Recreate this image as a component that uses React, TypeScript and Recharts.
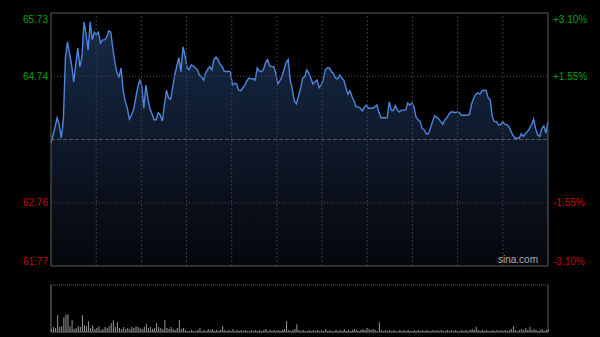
import { AreaChart, Area, Line, BarChart, Bar, XAxis, YAxis, CartesianGrid, ReferenceLine, ReferenceArea } from 'recharts';

// minute prices
const prices = [
  63.70, 63.82, 63.95, 64.09, 63.98, 63.77, 64.06, 65.03, 65.28, 65.09,
  64.92, 64.65, 64.93, 65.18, 64.89, 65.04, 65.59, 65.40, 65.15, 65.59,
  65.31, 65.43, 65.39, 65.43, 65.26, 65.31, 65.31, 65.35, 65.45, 65.43,
  65.17, 64.96, 64.79, 64.73, 64.87, 64.52, 64.35, 64.24, 64.07, 64.13,
  64.21, 64.38, 64.56, 64.68, 64.60, 64.24, 64.60, 64.38, 64.23, 64.15,
  64.06, 64.06, 64.17, 64.13, 64.04, 64.29, 64.52, 64.40, 64.38, 64.56,
  64.76, 64.90, 65.03, 64.81, 65.20, 65.06, 64.87, 64.84, 64.92, 64.90,
  64.87, 64.84, 64.76, 64.73, 64.68, 64.79, 64.85, 64.89, 64.84, 65.00,
  65.04, 65.00, 64.93, 64.89, 64.82, 64.81, 64.82, 64.81, 64.60, 64.63,
  64.62, 64.52, 64.51, 64.56, 64.60, 64.67, 64.71, 64.70, 64.70, 64.68,
  64.87, 64.82, 64.81, 64.84, 64.95, 65.00, 64.90, 64.89, 64.89, 64.79,
  64.62, 64.67, 64.73, 64.85, 64.95, 65.00, 64.68, 64.54, 64.35, 64.31,
  64.43, 64.54, 64.71, 64.73, 64.84, 64.79, 64.71, 64.62, 64.65, 64.68,
  64.56, 64.60, 64.68, 64.84, 64.87, 64.87, 64.81, 64.78, 64.71, 64.70,
  64.76, 64.71, 64.68, 64.56, 64.46, 64.51, 64.42, 64.35, 64.26, 64.26,
  64.24, 64.20, 64.26, 64.29, 64.24, 64.24, 64.24, 64.26, 64.29, 64.18,
  64.09, 64.09, 64.09, 64.09, 64.34, 64.21, 64.20, 64.28, 64.21, 64.18,
  64.21, 64.21, 64.21, 64.32, 64.29, 64.32, 64.26, 64.10, 64.06, 64.03,
  63.92, 63.90, 63.84, 63.84, 63.93, 64.03, 64.12, 64.10, 64.07, 64.03,
  63.99, 64.06, 64.09, 64.15, 64.18, 64.18, 64.17, 64.18, 64.17, 64.13,
  64.13, 64.13, 64.13, 64.15, 64.31, 64.40, 64.46, 64.48, 64.46, 64.51,
  64.52, 64.52, 64.40, 64.37, 64.10, 64.03, 64.03, 63.98, 63.98, 64.03,
  63.99, 63.98, 63.95, 63.88, 63.82, 63.77, 63.77, 63.77, 63.84, 63.80,
  63.84, 63.87, 63.92, 63.98, 64.07, 63.92, 63.82, 63.80, 63.92, 63.96,
  63.85, 64.03,
];

const volumes = [
  3, 5, 4, 17, 5, 6, 15, 18, 18, 6,
  12, 3, 4, 6, 5, 17, 7, 6, 11, 4,
  7, 3, 4, 6, 2, 3, 5, 4, 6, 9,
  12, 5, 10, 4, 3, 5, 3, 4, 3, 5,
  4, 6, 5, 4, 3, 5, 8, 4, 5, 3,
  4, 9, 5, 4, 3, 12, 4, 3, 5, 3,
  2, 4, 12, 3, 4, 2, 1, 1, 2, 1,
  1, 2, 4, 1, 2, 1, 3, 2, 3, 1,
  2, 1, 2, 6, 2, 1, 2, 1, 3, 1,
  2, 1, 2, 1, 2, 1, 1, 2, 1, 2,
  1, 2, 1, 2, 3, 1, 2, 1, 2, 1,
  2, 1, 2, 3, 11, 2, 1, 2, 3, 8,
  2, 1, 2, 1, 1, 2, 1, 2, 1, 2,
  1, 2, 1, 3, 1, 2, 1, 1, 2, 1,
  2, 1, 3, 1, 2, 1, 2, 3, 2, 1,
  2, 3, 2, 4, 3, 2, 3, 2, 1, 10,
  2, 1, 2, 1, 2, 1, 2, 1, 1, 2,
  1, 2, 1, 2, 1, 1, 2, 1, 2, 1,
  2, 1, 2, 1, 1, 2, 1, 2, 1, 2,
  1, 1, 2, 1, 2, 1, 2, 1, 1, 2,
  1, 2, 1, 2, 3, 2, 5, 2, 1, 2,
  1, 2, 1, 1, 2, 1, 2, 1, 2, 1,
  2, 1, 2, 3, 6, 2, 1, 2, 3, 2,
  4, 2, 5, 2, 3, 2, 1, 2, 3, 1,
  2, 3,
];

const prevClose = 63.75;
const priceTicks = [61.77, 62.76, 64.74, 65.73];
const pctLabels = ['-3.10%', '-1.55%', '+1.55%', '+3.10%'];
const volTicks = [0, 24, 48];

const data = prices.map((p, i) => ({ i, price: p, vol: volumes[i] }));
const lastIdx = prices.length - 1;
const gridCols = 11;
const colLines = Array.from({ length: gridCols - 1 }, (_, k) => ((k + 1) * lastIdx) / gridCols);

const GREEN = '#00a000';
const RED = '#cc0000';
const FONT = '"Liberation Sans", Arial, sans-serif';

function tickShift(v: number) {
  if (v === priceTicks[priceTicks.length - 1]) return 6;
  if (v === priceTicks[0]) return -5;
  return 0;
}

function LeftTick(props: any) {
  const { x, y, payload } = props;
  const v = payload.value;
  return (
    <text x={x} y={y + tickShift(v)} dy="0.35em" textAnchor="end" fill={v > prevClose ? GREEN : RED} fontSize={10} fontFamily={FONT}>
      {v.toFixed(2)}
    </text>
  );
}

function RightTick(props: any) {
  const { x, y, payload } = props;
  const v = payload.value;
  const idx = priceTicks.indexOf(v);
  return (
    <text x={x} y={y + tickShift(v)} dy="0.35em" textAnchor="start" fill={v > prevClose ? GREEN : RED} fontSize={10} fontFamily={FONT}>
      {pctLabels[idx]}
    </text>
  );
}

export default function App() {
  return (
    <div style={{ position: 'fixed', left: 0, top: 0, width: 600, height: 337, background: '#000', overflow: 'hidden' }}>
      <div style={{ position: 'absolute', left: 0, top: 0 }}>
        <AreaChart width={600} height={280} data={data} margin={{ top: 13, right: 0, bottom: 14, left: 0 }}>
          <defs>
            <linearGradient id="priceFill" x1="0" y1="0" x2="0" y2="1">
              <stop offset="0%" stopColor="#172a48" />
              <stop offset="100%" stopColor="#05070b" />
            </linearGradient>
          </defs>
          <XAxis dataKey="i" type="number" domain={[0, lastIdx]} hide />
          <YAxis
            yAxisId="left"
            domain={[61.77, 65.73]}
            ticks={priceTicks}
            width={51}
            axisLine={false}
            tickLine={false}
            tickSize={0}
            tickMargin={3}
            tick={<LeftTick />}
          />
          <YAxis
            yAxisId="right"
            orientation="right"
            domain={[61.77, 65.73]}
            ticks={priceTicks}
            width={52}
            axisLine={false}
            tickLine={false}
            tickSize={0}
            tickMargin={5}
            tick={<RightTick />}
          />
          <Area
            yAxisId="left"
            type="linear"
            dataKey="price"
            stroke="#4d86dc"
            strokeWidth={1.4}
            fill="url(#priceFill)"
            fillOpacity={1}
            dot={false}
            activeDot={false}
            isAnimationActive={false}
          />
          {/* invisible twin so the percent axis is drawn */}
          <Line yAxisId="right" dataKey="price" stroke="none" dot={false} activeDot={false} isAnimationActive={false} />
          {colLines.map((c) => (
            <ReferenceLine key={c} yAxisId="left" x={c} stroke="#3c3c3c" strokeDasharray="2 2" />
          ))}
          <ReferenceLine yAxisId="left" y={64.74} stroke="#4a4a4a" strokeDasharray="1 2" />
          <ReferenceLine yAxisId="left" y={62.76} stroke="#4a4a4a" strokeDasharray="1 2" />
          <ReferenceLine yAxisId="left" y={prevClose} stroke="#5a5a5a" strokeDasharray="4 2" />
          <ReferenceArea yAxisId="left" x1={0} x2={lastIdx} y1={61.77} y2={65.73} fill="none" stroke="#5e5e5e" strokeWidth={1} />
        </AreaChart>
      </div>
      <div style={{ position: 'absolute', left: 498, top: 254, color: '#b0b0b0', fontSize: 10, fontFamily: FONT }}>sina.com</div>
      <div style={{ position: 'absolute', left: 0, top: 280 }}>
        <BarChart width={600} height={57} data={data} margin={{ top: 5, right: 52, bottom: 5, left: 51 }}>
          <XAxis dataKey="i" type="number" domain={[0, lastIdx]} hide />
          <YAxis domain={[0, 48]} ticks={volTicks} hide width={0} />
          <CartesianGrid vertical={false} stroke="#5a5a5a" strokeDasharray="1 1" />
          <Bar dataKey="vol" fill="#9a9a9a" barSize={1} isAnimationActive={false} />
          <ReferenceLine y={0} stroke="#5e5e5e" />
          <ReferenceLine x={0} stroke="#7a7a7a" />
          <ReferenceLine x={lastIdx} stroke="#5e5e5e" />
        </BarChart>
      </div>
    </div>
  );
}
